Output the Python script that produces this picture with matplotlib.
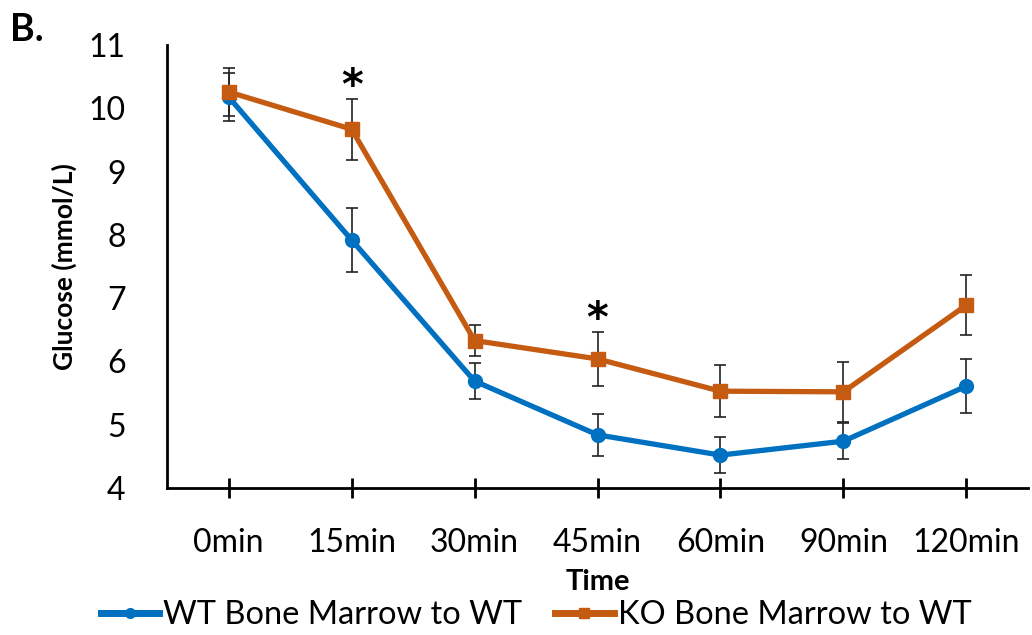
import matplotlib.pyplot as plt
from matplotlib.lines import Line2D
import numpy as np

plt.rcParams['font.family'] = ['Lato', 'DejaVu Sans']

times = ['0min', '15min', '30min', '45min', '60min', '90min', '120min']
wt_mean = [10.18, 7.92, 5.69, 4.84, 4.52, 4.74, 5.61]
wt_err = [0.38, 0.51, 0.28, 0.33, 0.29, 0.28, 0.43]
ko_mean = [10.26, 9.67, 6.33, 6.04, 5.53, 5.52, 6.89]
ko_err = [0.38, 0.48, 0.24, 0.43, 0.41, 0.47, 0.47]
star_at = ['15min', '45min']

blue = '#0070C0'
orange = '#C55A11'

fig = plt.figure(figsize=(10.32, 6.35), dpi=100)
ax = fig.add_axes([0.162, 0.2315, 0.834, 0.6975])

x = np.arange(len(times))
ax.errorbar(x, wt_mean, yerr=wt_err, color=blue, lw=3.8, marker='o', ms=10,
            ecolor='#222222', elinewidth=1.2, capsize=4.5, capthick=1.2, zorder=3)
ax.errorbar(x, ko_mean, yerr=ko_err, color=orange, lw=3.8, marker='s', ms=9.5,
            ecolor='#222222', elinewidth=1.2, capsize=4.5, capthick=1.2, zorder=3)

for t in star_at:
    i = times.index(t)
    ax.text(i, ko_mean[i] + ko_err[i] - 0.14, '*', ha='center', va='bottom',
            fontsize=30, fontweight='bold', family='DejaVu Sans')

ax.set_xlim(-0.5, len(times) - 0.5)
ax.set_ylim(4, 11)
ax.set_yticks(range(4, 12))
ax.set_xticks(x)
ax.set_xticklabels(times)
ax.tick_params(axis='y', length=0, labelsize=23, pad=30)
ax.tick_params(axis='x', direction='inout', length=14, width=2, labelsize=23, pad=22)
for s in ['top', 'right']:
    ax.spines[s].set_visible(False)
ax.spines['left'].set_linewidth(2)
ax.spines['bottom'].set_linewidth(2)

ax.set_ylabel('Glucose (mmol/L)', fontsize=19, fontweight='bold', labelpad=8)
ax.set_xlabel('Time', fontsize=21, fontweight='bold', labelpad=8)

fig.text(0.01, 0.935, 'B.', fontsize=27, fontweight='bold')

handles = [Line2D([], [], color=blue, lw=5, marker='o', ms=7),
           Line2D([], [], color=orange, lw=5, marker='s', ms=7)]
ax.legend(handles, ['WT Bone Marrow to WT', 'KO Bone Marrow to WT'],
          loc='center', bbox_to_anchor=(0.4286, -0.287), ncol=2, frameon=False,
          fontsize=23.5, handlelength=1.8, handletextpad=0.12, columnspacing=1.0,
          borderaxespad=0, borderpad=0)

fig.savefig('out.png', dpi=100)
